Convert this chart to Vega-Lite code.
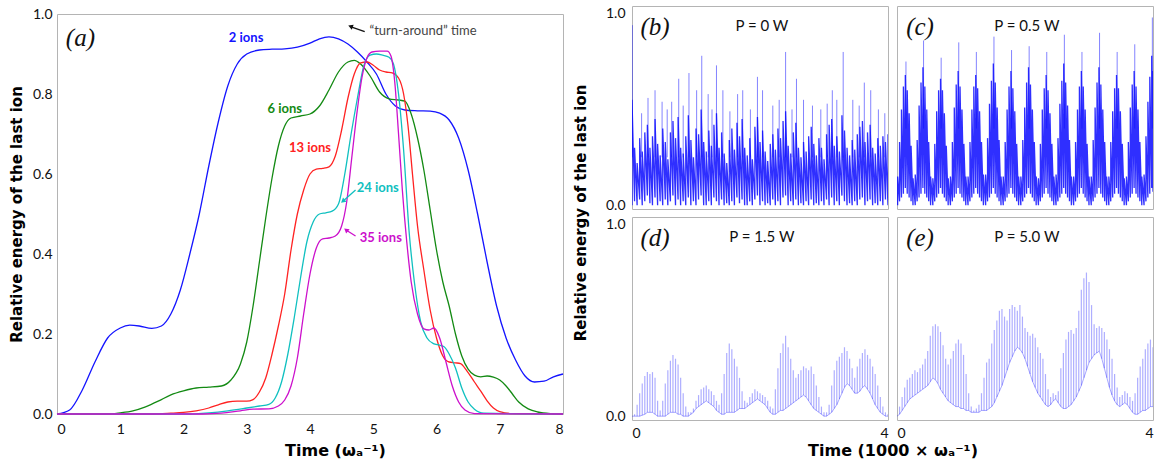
{
"$schema": "https://vega.github.io/schema/vega-lite/v6.json",
"background": "white",
"padding": {"left": 8, "top": 5, "right": 8, "bottom": 0},
"spacing": 6,
"config": {
  "view": {"stroke": "#b4b4b4", "strokeWidth": 1},
  "axis": {"labelFont": "Lato", "labelFontSize": 14, "labelColor": "#111", "titleFont": "DejaVu Sans", "titleFontWeight": "bold", "titleFontSize": 15, "titleColor": "#000", "grid": false, "domain": false, "ticks": false},
  "header": {"titleFont": "DejaVu Sans", "titleFontWeight": "bold", "titleFontSize": 15, "titleColor": "#000"}
},
"datasets": {
  "L": [
    {"s":"2","t":0,"v":0},{"s":"2","t":0.2,"v":0.01},{"s":"2","t":0.4,"v":0.06},{"s":"2","t":0.6,"v":0.13},{"s":"2","t":0.8,"v":0.19},{"s":"2","t":1.0,"v":0.215},{"s":"2","t":1.15,"v":0.222},{"s":"2","t":1.3,"v":0.22},{"s":"2","t":1.5,"v":0.214},{"s":"2","t":1.65,"v":0.22},{"s":"2","t":1.8,"v":0.25},{"s":"2","t":1.95,"v":0.31},{"s":"2","t":2.1,"v":0.4},{"s":"2","t":2.25,"v":0.5},{"s":"2","t":2.4,"v":0.62},{"s":"2","t":2.55,"v":0.73},{"s":"2","t":2.7,"v":0.82},{"s":"2","t":2.85,"v":0.875},{"s":"2","t":3.0,"v":0.9},{"s":"2","t":3.2,"v":0.91},{"s":"2","t":3.4,"v":0.912},{"s":"2","t":3.6,"v":0.913},{"s":"2","t":3.8,"v":0.917},{"s":"2","t":4.0,"v":0.927},{"s":"2","t":4.15,"v":0.938},{"s":"2","t":4.3,"v":0.943},{"s":"2","t":4.45,"v":0.938},{"s":"2","t":4.6,"v":0.925},{"s":"2","t":4.75,"v":0.905},{"s":"2","t":4.9,"v":0.88},{"s":"2","t":5.05,"v":0.85},{"s":"2","t":5.2,"v":0.8},{"s":"2","t":5.35,"v":0.77},{"s":"2","t":5.5,"v":0.76},{"s":"2","t":5.7,"v":0.758},{"s":"2","t":5.9,"v":0.757},{"s":"2","t":6.05,"v":0.752},{"s":"2","t":6.2,"v":0.735},{"s":"2","t":6.35,"v":0.69},{"s":"2","t":6.5,"v":0.61},{"s":"2","t":6.65,"v":0.5},{"s":"2","t":6.8,"v":0.38},{"s":"2","t":6.95,"v":0.27},{"s":"2","t":7.1,"v":0.19},{"s":"2","t":7.25,"v":0.135},{"s":"2","t":7.4,"v":0.095},{"s":"2","t":7.55,"v":0.08},{"s":"2","t":7.7,"v":0.082},{"s":"2","t":7.85,"v":0.093},{"s":"2","t":8.0,"v":0.1},
    {"s":"6","t":0,"v":0},{"s":"6","t":0.8,"v":0},{"s":"6","t":1.0,"v":0.003},{"s":"6","t":1.2,"v":0.008},{"s":"6","t":1.4,"v":0.018},{"s":"6","t":1.6,"v":0.032},{"s":"6","t":1.8,"v":0.048},{"s":"6","t":2.0,"v":0.058},{"s":"6","t":2.2,"v":0.065},{"s":"6","t":2.4,"v":0.067},{"s":"6","t":2.6,"v":0.07},{"s":"6","t":2.75,"v":0.085},{"s":"6","t":2.9,"v":0.125},{"s":"6","t":3.0,"v":0.18},{"s":"6","t":3.1,"v":0.27},{"s":"6","t":3.2,"v":0.38},{"s":"6","t":3.3,"v":0.49},{"s":"6","t":3.4,"v":0.59},{"s":"6","t":3.5,"v":0.67},{"s":"6","t":3.6,"v":0.72},{"s":"6","t":3.7,"v":0.74},{"s":"6","t":3.85,"v":0.745},{"s":"6","t":4.0,"v":0.75},{"s":"6","t":4.15,"v":0.77},{"s":"6","t":4.3,"v":0.81},{"s":"6","t":4.45,"v":0.855},{"s":"6","t":4.6,"v":0.88},{"s":"6","t":4.7,"v":0.884},{"s":"6","t":4.8,"v":0.875},{"s":"6","t":4.95,"v":0.845},{"s":"6","t":5.1,"v":0.805},{"s":"6","t":5.25,"v":0.788},{"s":"6","t":5.4,"v":0.785},{"s":"6","t":5.5,"v":0.782},{"s":"6","t":5.6,"v":0.75},{"s":"6","t":5.7,"v":0.69},{"s":"6","t":5.8,"v":0.61},{"s":"6","t":5.9,"v":0.51},{"s":"6","t":6.0,"v":0.41},{"s":"6","t":6.1,"v":0.33},{"s":"6","t":6.2,"v":0.27},{"s":"6","t":6.3,"v":0.2},{"s":"6","t":6.4,"v":0.145},{"s":"6","t":6.5,"v":0.112},{"s":"6","t":6.6,"v":0.097},{"s":"6","t":6.7,"v":0.093},{"s":"6","t":6.8,"v":0.095},{"s":"6","t":6.9,"v":0.092},{"s":"6","t":7.0,"v":0.085},{"s":"6","t":7.1,"v":0.07},{"s":"6","t":7.2,"v":0.05},{"s":"6","t":7.3,"v":0.03},{"s":"6","t":7.45,"v":0.013},{"s":"6","t":7.6,"v":0.005},{"s":"6","t":7.8,"v":0.001},{"s":"6","t":8.0,"v":0},
    {"s":"13","t":0,"v":0},{"s":"13","t":1.5,"v":0},{"s":"13","t":1.8,"v":0.002},{"s":"13","t":2.0,"v":0.004},{"s":"13","t":2.2,"v":0.008},{"s":"13","t":2.4,"v":0.015},{"s":"13","t":2.55,"v":0.023},{"s":"13","t":2.7,"v":0.03},{"s":"13","t":2.85,"v":0.032},{"s":"13","t":3.0,"v":0.032},{"s":"13","t":3.1,"v":0.036},{"s":"13","t":3.2,"v":0.055},{"s":"13","t":3.3,"v":0.09},{"s":"13","t":3.4,"v":0.15},{"s":"13","t":3.5,"v":0.22},{"s":"13","t":3.6,"v":0.3},{"s":"13","t":3.7,"v":0.41},{"s":"13","t":3.8,"v":0.5},{"s":"13","t":3.9,"v":0.56},{"s":"13","t":4.0,"v":0.6},{"s":"13","t":4.1,"v":0.612},{"s":"13","t":4.2,"v":0.614},{"s":"13","t":4.3,"v":0.618},{"s":"13","t":4.4,"v":0.645},{"s":"13","t":4.5,"v":0.71},{"s":"13","t":4.6,"v":0.79},{"s":"13","t":4.7,"v":0.85},{"s":"13","t":4.8,"v":0.878},{"s":"13","t":4.9,"v":0.88},{"s":"13","t":5.0,"v":0.872},{"s":"13","t":5.1,"v":0.86},{"s":"13","t":5.2,"v":0.855},{"s":"13","t":5.3,"v":0.853},{"s":"13","t":5.4,"v":0.84},{"s":"13","t":5.48,"v":0.8},{"s":"13","t":5.55,"v":0.72},{"s":"13","t":5.62,"v":0.6},{"s":"13","t":5.7,"v":0.47},{"s":"13","t":5.8,"v":0.36},{"s":"13","t":5.9,"v":0.26},{"s":"13","t":6.0,"v":0.19},{"s":"13","t":6.1,"v":0.145},{"s":"13","t":6.2,"v":0.13},{"s":"13","t":6.3,"v":0.128},{"s":"13","t":6.38,"v":0.126},{"s":"13","t":6.48,"v":0.108},{"s":"13","t":6.6,"v":0.08},{"s":"13","t":6.7,"v":0.057},{"s":"13","t":6.8,"v":0.033},{"s":"13","t":6.9,"v":0.015},{"s":"13","t":7.0,"v":0.006},{"s":"13","t":7.2,"v":0.001},{"s":"13","t":8.0,"v":0},
    {"s":"24","t":0,"v":0},{"s":"24","t":2.0,"v":0},{"s":"24","t":2.4,"v":0.003},{"s":"24","t":2.7,"v":0.008},{"s":"24","t":3.0,"v":0.015},{"s":"24","t":3.2,"v":0.02},{"s":"24","t":3.35,"v":0.024},{"s":"24","t":3.45,"v":0.04},{"s":"24","t":3.55,"v":0.08},{"s":"24","t":3.65,"v":0.15},{"s":"24","t":3.75,"v":0.24},{"s":"24","t":3.85,"v":0.34},{"s":"24","t":3.95,"v":0.43},{"s":"24","t":4.05,"v":0.48},{"s":"24","t":4.15,"v":0.5},{"s":"24","t":4.25,"v":0.503},{"s":"24","t":4.35,"v":0.507},{"s":"24","t":4.45,"v":0.525},{"s":"24","t":4.55,"v":0.6},{"s":"24","t":4.65,"v":0.7},{"s":"24","t":4.75,"v":0.79},{"s":"24","t":4.85,"v":0.87},{"s":"24","t":4.95,"v":0.897},{"s":"24","t":5.05,"v":0.9},{"s":"24","t":5.15,"v":0.897},{"s":"24","t":5.25,"v":0.892},{"s":"24","t":5.32,"v":0.875},{"s":"24","t":5.4,"v":0.8},{"s":"24","t":5.48,"v":0.66},{"s":"24","t":5.57,"v":0.45},{"s":"24","t":5.65,"v":0.33},{"s":"24","t":5.75,"v":0.23},{"s":"24","t":5.85,"v":0.19},{"s":"24","t":5.95,"v":0.176},{"s":"24","t":6.05,"v":0.172},{"s":"24","t":6.12,"v":0.168},{"s":"24","t":6.2,"v":0.15},{"s":"24","t":6.3,"v":0.115},{"s":"24","t":6.4,"v":0.065},{"s":"24","t":6.5,"v":0.03},{"s":"24","t":6.6,"v":0.012},{"s":"24","t":6.75,"v":0.002},{"s":"24","t":8.0,"v":0},
    {"s":"35","t":0,"v":0},{"s":"35","t":2.3,"v":0},{"s":"35","t":2.6,"v":0.002},{"s":"35","t":2.9,"v":0.008},{"s":"35","t":3.1,"v":0.012},{"s":"35","t":3.35,"v":0.013},{"s":"35","t":3.5,"v":0.02},{"s":"35","t":3.6,"v":0.035},{"s":"35","t":3.7,"v":0.07},{"s":"35","t":3.8,"v":0.14},{"s":"35","t":3.9,"v":0.25},{"s":"35","t":4.0,"v":0.35},{"s":"35","t":4.1,"v":0.415},{"s":"35","t":4.2,"v":0.438},{"s":"35","t":4.3,"v":0.44},{"s":"35","t":4.4,"v":0.445},{"s":"35","t":4.5,"v":0.47},{"s":"35","t":4.58,"v":0.53},{"s":"35","t":4.66,"v":0.64},{"s":"35","t":4.74,"v":0.75},{"s":"35","t":4.82,"v":0.84},{"s":"35","t":4.9,"v":0.89},{"s":"35","t":4.98,"v":0.905},{"s":"35","t":5.1,"v":0.907},{"s":"35","t":5.22,"v":0.907},{"s":"35","t":5.28,"v":0.895},{"s":"35","t":5.34,"v":0.83},{"s":"35","t":5.4,"v":0.7},{"s":"35","t":5.46,"v":0.56},{"s":"35","t":5.53,"v":0.43},{"s":"35","t":5.6,"v":0.33},{"s":"35","t":5.7,"v":0.25},{"s":"35","t":5.8,"v":0.213},{"s":"35","t":5.88,"v":0.21},{"s":"35","t":5.96,"v":0.215},{"s":"35","t":6.05,"v":0.19},{"s":"35","t":6.15,"v":0.13},{"s":"35","t":6.25,"v":0.07},{"s":"35","t":6.35,"v":0.03},{"s":"35","t":6.45,"v":0.01},{"s":"35","t":6.6,"v":0.001},{"s":"35","t":8.0,"v":0}
  ],
  "A": [
    {"s":"2","t":2.99,"v":0.94,"lab":"2 ions"},
    {"s":"6","t":3.6,"v":0.762,"lab":"6 ions"},
    {"s":"13","t":4.0,"v":0.665,"lab":"13 ions"},
    {"s":"24","t":5.07,"v":0.565,"lab":"24 ions"},
    {"s":"35","t":5.12,"v":0.44,"lab":"35 ions"}
  ],
  "AR": [
    {"s":"24","t":4.72,"v":0.56,"t2":4.52,"v2":0.532},
    {"s":"35","t":4.72,"v":0.445,"t2":4.57,"v2":0.46}
  ],
  "pm": [
    {"p":"b","r":1,"c":1},{"p":"c","r":1,"c":2},{"p":"d","r":2,"c":1},{"p":"e","r":2,"c":2}
  ],
  "R": [
    {"p":"b","k":"id","t":0.36,"v":0.93,"s":"(b)"},{"p":"c","k":"id","t":0.36,"v":0.93,"s":"(c)"},{"p":"d","k":"id","t":0.36,"v":0.93,"s":"(d)"},{"p":"e","k":"id","t":0.36,"v":0.93,"s":"(e)"},
    {"p":"b","k":"pw","t":2.03,"v":0.935,"s":"P = 0 W"},{"p":"c","k":"pw","t":2.03,"v":0.935,"s":"P = 0.5 W"},{"p":"d","k":"pw","t":2.03,"v":0.935,"s":"P = 1.5 W"},{"p":"e","k":"pw","t":2.03,"v":0.935,"s":"P = 5.0 W"},
    {"p":"b","t":0,"l":0,"h":0.55},{"p":"b","t":0.04,"l":0.02,"h":0.3},{"p":"b","t":0.08,"l":0,"h":0.22},{"p":"b","t":0.12,"l":0.03,"h":0.35},{"p":"b","t":0.16,"l":0,"h":0.28},{"p":"b","t":0.2,"l":0.02,"h":0.38},{"p":"b","t":0.24,"l":0.05,"h":0.42},{"p":"b","t":0.28,"l":0.01,"h":0.3},{"p":"b","t":0.32,"l":0,"h":0.36},{"p":"b","t":0.36,"l":0.04,"h":0.45},{"p":"b","t":0.4,"l":0,"h":0.32},{"p":"b","t":0.44,"l":0.02,"h":0.26},{"p":"b","t":0.48,"l":0,"h":0.4},{"p":"b","t":0.52,"l":0.03,"h":0.33},{"p":"b","t":0.56,"l":0,"h":0.24},{"p":"b","t":0.6,"l":0.02,"h":0.38},{"p":"b","t":0.64,"l":0.05,"h":0.44},{"p":"b","t":0.68,"l":0,"h":0.35},{"p":"b","t":0.72,"l":0.03,"h":0.46},{"p":"b","t":0.76,"l":0,"h":0.3},{"p":"b","t":0.8,"l":0.02,"h":0.27},{"p":"b","t":0.84,"l":0,"h":0.36},{"p":"b","t":0.88,"l":0.04,"h":0.47},{"p":"b","t":0.92,"l":0,"h":0.34},{"p":"b","t":0.96,"l":0.02,"h":0.25},{"p":"b","t":1.0,"l":0,"h":0.4},{"p":"b","t":1.04,"l":0.03,"h":0.37},{"p":"b","t":1.08,"l":0.05,"h":0.5},{"p":"b","t":1.12,"l":0,"h":0.33},{"p":"b","t":1.16,"l":0,"h":0.28},{"p":"b","t":1.2,"l":0.02,"h":0.39},{"p":"b","t":1.24,"l":0,"h":0.31},{"p":"b","t":1.28,"l":0.04,"h":0.42},{"p":"b","t":1.32,"l":0.02,"h":0.48},{"p":"b","t":1.36,"l":0,"h":0.3},{"p":"b","t":1.4,"l":0.03,"h":0.38},{"p":"b","t":1.44,"l":0,"h":0.27},{"p":"b","t":1.48,"l":0.01,"h":0.22},{"p":"b","t":1.52,"l":0,"h":0.34},{"p":"b","t":1.56,"l":0.02,"h":0.4},{"p":"b","t":1.6,"l":0,"h":0.29},{"p":"b","t":1.64,"l":0.04,"h":0.43},{"p":"b","t":1.68,"l":0.01,"h":0.36},{"p":"b","t":1.72,"l":0.03,"h":0.45},{"p":"b","t":1.76,"l":0,"h":0.3},{"p":"b","t":1.8,"l":0,"h":0.26},{"p":"b","t":1.84,"l":0.02,"h":0.35},{"p":"b","t":1.88,"l":0,"h":0.24},{"p":"b","t":1.92,"l":0.03,"h":0.41},{"p":"b","t":1.96,"l":0.05,"h":0.46},{"p":"b","t":2.0,"l":0,"h":0.33},{"p":"b","t":2.04,"l":0.02,"h":0.39},{"p":"b","t":2.08,"l":0,"h":0.28},{"p":"b","t":2.12,"l":0.01,"h":0.23},{"p":"b","t":2.16,"l":0,"h":0.32},{"p":"b","t":2.2,"l":0.03,"h":0.37},{"p":"b","t":2.24,"l":0,"h":0.29},{"p":"b","t":2.28,"l":0.02,"h":0.4},{"p":"b","t":2.32,"l":0,"h":0.35},{"p":"b","t":2.36,"l":0.04,"h":0.44},{"p":"b","t":2.4,"l":0.05,"h":0.49},{"p":"b","t":2.44,"l":0,"h":0.31},{"p":"b","t":2.48,"l":0.02,"h":0.27},{"p":"b","t":2.52,"l":0,"h":0.38},{"p":"b","t":2.56,"l":0.03,"h":0.43},{"p":"b","t":2.6,"l":0,"h":0.3},{"p":"b","t":2.64,"l":0.01,"h":0.25},{"p":"b","t":2.68,"l":0,"h":0.33},{"p":"b","t":2.72,"l":0.02,"h":0.28},{"p":"b","t":2.76,"l":0,"h":0.36},{"p":"b","t":2.8,"l":0.03,"h":0.41},{"p":"b","t":2.84,"l":0,"h":0.32},{"p":"b","t":2.88,"l":0.01,"h":0.26},{"p":"b","t":2.92,"l":0,"h":0.35},{"p":"b","t":2.96,"l":0.02,"h":0.3},{"p":"b","t":3.0,"l":0,"h":0.24},{"p":"b","t":3.04,"l":0.03,"h":0.37},{"p":"b","t":3.08,"l":0,"h":0.42},{"p":"b","t":3.12,"l":0.04,"h":0.45},{"p":"b","t":3.16,"l":0,"h":0.31},{"p":"b","t":3.2,"l":0.02,"h":0.36},{"p":"b","t":3.24,"l":0,"h":0.28},{"p":"b","t":3.28,"l":0.05,"h":0.47},{"p":"b","t":3.32,"l":0.02,"h":0.39},{"p":"b","t":3.36,"l":0,"h":0.3},{"p":"b","t":3.4,"l":0.01,"h":0.26},{"p":"b","t":3.44,"l":0,"h":0.34},{"p":"b","t":3.48,"l":0.02,"h":0.29},{"p":"b","t":3.52,"l":0,"h":0.37},{"p":"b","t":3.56,"l":0.03,"h":0.41},{"p":"b","t":3.6,"l":0.04,"h":0.44},{"p":"b","t":3.64,"l":0,"h":0.33},{"p":"b","t":3.68,"l":0.02,"h":0.38},{"p":"b","t":3.72,"l":0.03,"h":0.42},{"p":"b","t":3.76,"l":0,"h":0.3},{"p":"b","t":3.8,"l":0.01,"h":0.27},{"p":"b","t":3.84,"l":0,"h":0.35},{"p":"b","t":3.88,"l":0.02,"h":0.31},{"p":"b","t":3.92,"l":0,"h":0.36},{"p":"b","t":3.96,"l":0.03,"h":0.33},{"p":"b","t":4.0,"l":0,"h":0.37},
    {"p":"b","k":"s","t":0.005,"l":0.25,"h":0.94},{"p":"b","k":"s","t":0.15,"l":0.25,"h":0.48},{"p":"b","k":"s","t":0.25,"l":0.25,"h":0.56},{"p":"b","k":"s","t":0.36,"l":0.25,"h":0.6},{"p":"b","k":"s","t":0.47,"l":0.25,"h":0.54},{"p":"b","k":"s","t":0.55,"l":0.25,"h":0.5},{"p":"b","k":"s","t":0.62,"l":0.25,"h":0.54},{"p":"b","k":"s","t":0.73,"l":0.25,"h":0.66},{"p":"b","k":"s","t":0.8,"l":0.25,"h":0.52},{"p":"b","k":"s","t":0.89,"l":0.25,"h":0.69},{"p":"b","k":"s","t":1.01,"l":0.25,"h":0.6},{"p":"b","k":"s","t":1.09,"l":0.25,"h":0.78},{"p":"b","k":"s","t":1.19,"l":0.25,"h":0.58},{"p":"b","k":"s","t":1.25,"l":0.25,"h":0.5},{"p":"b","k":"s","t":1.32,"l":0.25,"h":0.73},{"p":"b","k":"s","t":1.42,"l":0.25,"h":0.6},{"p":"b","k":"s","t":1.53,"l":0.25,"h":0.49},{"p":"b","k":"s","t":1.65,"l":0.25,"h":0.58},{"p":"b","k":"s","t":1.73,"l":0.25,"h":0.6},{"p":"b","k":"s","t":1.85,"l":0.25,"h":0.5},{"p":"b","k":"s","t":1.96,"l":0.25,"h":0.67},{"p":"b","k":"s","t":2.04,"l":0.25,"h":0.6},{"p":"b","k":"s","t":2.2,"l":0.25,"h":0.52},{"p":"b","k":"s","t":2.3,"l":0.25,"h":0.55},{"p":"b","k":"s","t":2.4,"l":0.25,"h":0.8},{"p":"b","k":"s","t":2.5,"l":0.25,"h":0.5},{"p":"b","k":"s","t":2.57,"l":0.25,"h":0.66},{"p":"b","k":"s","t":2.68,"l":0.25,"h":0.55},{"p":"b","k":"s","t":2.82,"l":0.25,"h":0.52},{"p":"b","k":"s","t":2.95,"l":0.25,"h":0.5},{"p":"b","k":"s","t":3.05,"l":0.25,"h":0.53},{"p":"b","k":"s","t":3.13,"l":0.25,"h":0.6},{"p":"b","k":"s","t":3.2,"l":0.25,"h":0.55},{"p":"b","k":"s","t":3.3,"l":0.25,"h":0.8},{"p":"b","k":"s","t":3.45,"l":0.25,"h":0.55},{"p":"b","k":"s","t":3.55,"l":0.25,"h":0.52},{"p":"b","k":"s","t":3.63,"l":0.25,"h":0.64},{"p":"b","k":"s","t":3.73,"l":0.25,"h":0.6},{"p":"b","k":"s","t":3.85,"l":0.25,"h":0.5},{"p":"b","k":"s","t":3.95,"l":0.25,"h":0.48},
    {"p":"c","t":0.01,"l":0,"h":0.15},{"p":"c","t":0.04,"l":0.02,"h":0.33},{"p":"c","t":0.07,"l":0.04,"h":0.5},{"p":"c","t":0.1,"l":0.06,"h":0.62},{"p":"c","t":0.13,"l":0.09,"h":0.68},{"p":"c","t":0.16,"l":0.06,"h":0.6},{"p":"c","t":0.19,"l":0.04,"h":0.48},{"p":"c","t":0.22,"l":0.02,"h":0.31},{"p":"c","t":0.25,"l":0,"h":0.14},
    {"p":"c","t":0.285,"l":0,"h":0.16},{"p":"c","t":0.315,"l":0.02,"h":0.34},{"p":"c","t":0.345,"l":0.04,"h":0.52},{"p":"c","t":0.375,"l":0.06,"h":0.64},{"p":"c","t":0.405,"l":0.09,"h":0.72},{"p":"c","t":0.435,"l":0.06,"h":0.62},{"p":"c","t":0.465,"l":0.04,"h":0.5},{"p":"c","t":0.495,"l":0.02,"h":0.33},{"p":"c","t":0.525,"l":0,"h":0.15},
    {"p":"c","t":0.56,"l":0,"h":0.14},{"p":"c","t":0.59,"l":0.02,"h":0.32},{"p":"c","t":0.62,"l":0.04,"h":0.49},{"p":"c","t":0.65,"l":0.06,"h":0.6},{"p":"c","t":0.68,"l":0.09,"h":0.66},{"p":"c","t":0.71,"l":0.06,"h":0.6},{"p":"c","t":0.74,"l":0.04,"h":0.48},{"p":"c","t":0.77,"l":0.02,"h":0.31},{"p":"c","t":0.8,"l":0,"h":0.14},
    {"p":"c","t":0.835,"l":0,"h":0.15},{"p":"c","t":0.865,"l":0.02,"h":0.33},{"p":"c","t":0.895,"l":0.04,"h":0.51},{"p":"c","t":0.925,"l":0.06,"h":0.63},{"p":"c","t":0.955,"l":0.09,"h":0.7},{"p":"c","t":0.985,"l":0.06,"h":0.62},{"p":"c","t":1.015,"l":0.04,"h":0.5},{"p":"c","t":1.045,"l":0.02,"h":0.32},{"p":"c","t":1.075,"l":0,"h":0.15},
    {"p":"c","t":1.11,"l":0,"h":0.15},{"p":"c","t":1.14,"l":0.02,"h":0.33},{"p":"c","t":1.17,"l":0.04,"h":0.5},{"p":"c","t":1.2,"l":0.06,"h":0.62},{"p":"c","t":1.23,"l":0.09,"h":0.68},{"p":"c","t":1.26,"l":0.06,"h":0.61},{"p":"c","t":1.29,"l":0.04,"h":0.49},{"p":"c","t":1.32,"l":0.02,"h":0.33},{"p":"c","t":1.35,"l":0,"h":0.16},
    {"p":"c","t":1.385,"l":0,"h":0.16},{"p":"c","t":1.415,"l":0.02,"h":0.35},{"p":"c","t":1.445,"l":0.04,"h":0.53},{"p":"c","t":1.475,"l":0.06,"h":0.65},{"p":"c","t":1.505,"l":0.09,"h":0.74},{"p":"c","t":1.535,"l":0.06,"h":0.64},{"p":"c","t":1.565,"l":0.04,"h":0.51},{"p":"c","t":1.595,"l":0.02,"h":0.34},{"p":"c","t":1.625,"l":0,"h":0.15},
    {"p":"c","t":1.66,"l":0,"h":0.15},{"p":"c","t":1.69,"l":0.02,"h":0.33},{"p":"c","t":1.72,"l":0.04,"h":0.5},{"p":"c","t":1.75,"l":0.06,"h":0.62},{"p":"c","t":1.78,"l":0.09,"h":0.7},{"p":"c","t":1.81,"l":0.06,"h":0.61},{"p":"c","t":1.84,"l":0.04,"h":0.49},{"p":"c","t":1.87,"l":0.02,"h":0.32},{"p":"c","t":1.9,"l":0,"h":0.15},
    {"p":"c","t":1.935,"l":0,"h":0.15},{"p":"c","t":1.965,"l":0.02,"h":0.34},{"p":"c","t":1.995,"l":0.04,"h":0.51},{"p":"c","t":2.025,"l":0.06,"h":0.64},{"p":"c","t":2.055,"l":0.09,"h":0.72},{"p":"c","t":2.085,"l":0.06,"h":0.63},{"p":"c","t":2.115,"l":0.04,"h":0.5},{"p":"c","t":2.145,"l":0.02,"h":0.33},{"p":"c","t":2.175,"l":0,"h":0.15},
    {"p":"c","t":2.21,"l":0,"h":0.14},{"p":"c","t":2.24,"l":0.02,"h":0.32},{"p":"c","t":2.27,"l":0.04,"h":0.5},{"p":"c","t":2.3,"l":0.06,"h":0.61},{"p":"c","t":2.33,"l":0.09,"h":0.68},{"p":"c","t":2.36,"l":0.06,"h":0.6},{"p":"c","t":2.39,"l":0.04,"h":0.48},{"p":"c","t":2.42,"l":0.02,"h":0.32},{"p":"c","t":2.45,"l":0,"h":0.15},
    {"p":"c","t":2.485,"l":0,"h":0.16},{"p":"c","t":2.515,"l":0.02,"h":0.35},{"p":"c","t":2.545,"l":0.04,"h":0.53},{"p":"c","t":2.575,"l":0.06,"h":0.65},{"p":"c","t":2.605,"l":0.09,"h":0.74},{"p":"c","t":2.635,"l":0.06,"h":0.64},{"p":"c","t":2.665,"l":0.04,"h":0.52},{"p":"c","t":2.695,"l":0.02,"h":0.34},{"p":"c","t":2.725,"l":0,"h":0.15},
    {"p":"c","t":2.76,"l":0,"h":0.15},{"p":"c","t":2.79,"l":0.02,"h":0.33},{"p":"c","t":2.82,"l":0.04,"h":0.5},{"p":"c","t":2.85,"l":0.06,"h":0.62},{"p":"c","t":2.88,"l":0.09,"h":0.7},{"p":"c","t":2.91,"l":0.06,"h":0.62},{"p":"c","t":2.94,"l":0.04,"h":0.5},{"p":"c","t":2.97,"l":0.02,"h":0.32},{"p":"c","t":3.0,"l":0,"h":0.15},
    {"p":"c","t":3.035,"l":0,"h":0.15},{"p":"c","t":3.065,"l":0.02,"h":0.34},{"p":"c","t":3.095,"l":0.04,"h":0.51},{"p":"c","t":3.125,"l":0.06,"h":0.64},{"p":"c","t":3.155,"l":0.09,"h":0.72},{"p":"c","t":3.185,"l":0.06,"h":0.63},{"p":"c","t":3.215,"l":0.04,"h":0.5},{"p":"c","t":3.245,"l":0.02,"h":0.33},{"p":"c","t":3.275,"l":0,"h":0.15},
    {"p":"c","t":3.31,"l":0,"h":0.15},{"p":"c","t":3.34,"l":0.02,"h":0.33},{"p":"c","t":3.37,"l":0.04,"h":0.49},{"p":"c","t":3.4,"l":0.06,"h":0.61},{"p":"c","t":3.43,"l":0.09,"h":0.68},{"p":"c","t":3.46,"l":0.06,"h":0.61},{"p":"c","t":3.49,"l":0.04,"h":0.49},{"p":"c","t":3.52,"l":0.02,"h":0.32},{"p":"c","t":3.55,"l":0,"h":0.14},
    {"p":"c","t":3.585,"l":0,"h":0.15},{"p":"c","t":3.615,"l":0.02,"h":0.33},{"p":"c","t":3.645,"l":0.04,"h":0.51},{"p":"c","t":3.675,"l":0.06,"h":0.63},{"p":"c","t":3.705,"l":0.09,"h":0.7},{"p":"c","t":3.735,"l":0.06,"h":0.62},{"p":"c","t":3.765,"l":0.04,"h":0.5},{"p":"c","t":3.795,"l":0.02,"h":0.33},{"p":"c","t":3.825,"l":0,"h":0.15},
    {"p":"c","t":3.86,"l":0,"h":0.16},{"p":"c","t":3.89,"l":0.02,"h":0.36},{"p":"c","t":3.92,"l":0.04,"h":0.54},{"p":"c","t":3.95,"l":0.06,"h":0.67},{"p":"c","t":3.98,"l":0.09,"h":0.78},{"p":"c","t":4.0,"l":0.07,"h":0.7},
    {"p":"c","k":"s","t":0.14,"l":0.4,"h":0.75},{"p":"c","k":"s","t":0.415,"l":0.4,"h":0.86},{"p":"c","k":"s","t":0.69,"l":0.4,"h":0.77},{"p":"c","k":"s","t":0.965,"l":0.4,"h":0.85},{"p":"c","k":"s","t":1.24,"l":0.4,"h":0.8},{"p":"c","k":"s","t":1.515,"l":0.4,"h":0.88},{"p":"c","k":"s","t":1.79,"l":0.4,"h":0.81},{"p":"c","k":"s","t":2.065,"l":0.4,"h":0.83},{"p":"c","k":"s","t":2.34,"l":0.4,"h":0.8},{"p":"c","k":"s","t":2.615,"l":0.4,"h":0.89},{"p":"c","k":"s","t":2.89,"l":0.4,"h":0.8},{"p":"c","k":"s","t":3.165,"l":0.4,"h":0.9},{"p":"c","k":"s","t":3.44,"l":0.4,"h":0.8},{"p":"c","k":"s","t":3.715,"l":0.4,"h":0.84},{"p":"c","k":"s","t":3.99,"l":0.4,"h":0.98},
    {"p":"d","t":0,"l":0,"h":0},{"p":"d","t":0.04,"l":0,"h":0.01},{"p":"d","t":0.08,"l":0,"h":0.06},{"p":"d","t":0.12,"l":0,"h":0.12},{"p":"d","t":0.16,"l":0.005,"h":0.17},{"p":"d","t":0.2,"l":0.01,"h":0.21},{"p":"d","t":0.24,"l":0.02,"h":0.23},{"p":"d","t":0.28,"l":0.02,"h":0.22},{"p":"d","t":0.32,"l":0.02,"h":0.23},{"p":"d","t":0.36,"l":0.01,"h":0.2},{"p":"d","t":0.4,"l":0,"h":0.08},{"p":"d","t":0.44,"l":0,"h":0.03},{"p":"d","t":0.48,"l":0,"h":0.08},{"p":"d","t":0.52,"l":0,"h":0.17},{"p":"d","t":0.56,"l":0.01,"h":0.24},{"p":"d","t":0.6,"l":0.02,"h":0.29},{"p":"d","t":0.64,"l":0.02,"h":0.32},{"p":"d","t":0.68,"l":0.02,"h":0.3},{"p":"d","t":0.72,"l":0.01,"h":0.27},{"p":"d","t":0.76,"l":0.01,"h":0.2},{"p":"d","t":0.8,"l":0,"h":0.12},{"p":"d","t":0.84,"l":0,"h":0.05},{"p":"d","t":0.88,"l":0,"h":0.02},{"p":"d","t":0.92,"l":0.01,"h":0.02},{"p":"d","t":0.96,"l":0.02,"h":0.04},{"p":"d","t":1.0,"l":0.04,"h":0.08},{"p":"d","t":1.04,"l":0.05,"h":0.11},{"p":"d","t":1.08,"l":0.06,"h":0.14},{"p":"d","t":1.12,"l":0.07,"h":0.15},{"p":"d","t":1.16,"l":0.08,"h":0.16},{"p":"d","t":1.2,"l":0.07,"h":0.14},{"p":"d","t":1.24,"l":0.06,"h":0.13},{"p":"d","t":1.28,"l":0.05,"h":0.11},{"p":"d","t":1.32,"l":0.03,"h":0.08},{"p":"d","t":1.36,"l":0.02,"h":0.06},{"p":"d","t":1.4,"l":0.01,"h":0.12},{"p":"d","t":1.44,"l":0.01,"h":0.22},{"p":"d","t":1.48,"l":0.02,"h":0.33},{"p":"d","t":1.52,"l":0.02,"h":0.38},{"p":"d","t":1.56,"l":0.02,"h":0.35},{"p":"d","t":1.6,"l":0.02,"h":0.3},{"p":"d","t":1.64,"l":0.03,"h":0.26},{"p":"d","t":1.68,"l":0.04,"h":0.2},{"p":"d","t":1.72,"l":0.04,"h":0.13},{"p":"d","t":1.76,"l":0.04,"h":0.08},{"p":"d","t":1.8,"l":0.05,"h":0.07},{"p":"d","t":1.84,"l":0.06,"h":0.1},{"p":"d","t":1.88,"l":0.07,"h":0.12},{"p":"d","t":1.92,"l":0.08,"h":0.14},{"p":"d","t":1.96,"l":0.09,"h":0.13},{"p":"d","t":2.0,"l":0.08,"h":0.12},{"p":"d","t":2.04,"l":0.07,"h":0.11},{"p":"d","t":2.08,"l":0.06,"h":0.1},{"p":"d","t":2.12,"l":0.04,"h":0.08},{"p":"d","t":2.16,"l":0.02,"h":0.05},{"p":"d","t":2.2,"l":0.01,"h":0.04},{"p":"d","t":2.24,"l":0.01,"h":0.14},{"p":"d","t":2.28,"l":0.02,"h":0.25},{"p":"d","t":2.32,"l":0.03,"h":0.33},{"p":"d","t":2.36,"l":0.03,"h":0.38},{"p":"d","t":2.4,"l":0.04,"h":0.42},{"p":"d","t":2.44,"l":0.05,"h":0.36},{"p":"d","t":2.48,"l":0.06,"h":0.3},{"p":"d","t":2.52,"l":0.07,"h":0.24},{"p":"d","t":2.56,"l":0.08,"h":0.2},{"p":"d","t":2.6,"l":0.09,"h":0.22},{"p":"d","t":2.64,"l":0.1,"h":0.24},{"p":"d","t":2.68,"l":0.11,"h":0.26},{"p":"d","t":2.72,"l":0.1,"h":0.25},{"p":"d","t":2.76,"l":0.08,"h":0.24},{"p":"d","t":2.8,"l":0.06,"h":0.26},{"p":"d","t":2.84,"l":0.04,"h":0.22},{"p":"d","t":2.88,"l":0.03,"h":0.16},{"p":"d","t":2.92,"l":0.02,"h":0.1},{"p":"d","t":2.96,"l":0.01,"h":0.05},{"p":"d","t":3.0,"l":0,"h":0.02},{"p":"d","t":3.04,"l":0,"h":0.02},{"p":"d","t":3.08,"l":0.01,"h":0.06},{"p":"d","t":3.12,"l":0.02,"h":0.16},{"p":"d","t":3.16,"l":0.04,"h":0.24},{"p":"d","t":3.2,"l":0.06,"h":0.29},{"p":"d","t":3.24,"l":0.09,"h":0.31},{"p":"d","t":3.28,"l":0.12,"h":0.33},{"p":"d","t":3.32,"l":0.15,"h":0.36},{"p":"d","t":3.36,"l":0.17,"h":0.34},{"p":"d","t":3.4,"l":0.16,"h":0.3},{"p":"d","t":3.44,"l":0.14,"h":0.25},{"p":"d","t":3.48,"l":0.12,"h":0.2},{"p":"d","t":3.52,"l":0.12,"h":0.26},{"p":"d","t":3.56,"l":0.13,"h":0.3},{"p":"d","t":3.6,"l":0.15,"h":0.33},{"p":"d","t":3.64,"l":0.16,"h":0.35},{"p":"d","t":3.68,"l":0.14,"h":0.32},{"p":"d","t":3.72,"l":0.12,"h":0.3},{"p":"d","t":3.76,"l":0.09,"h":0.26},{"p":"d","t":3.8,"l":0.06,"h":0.22},{"p":"d","t":3.84,"l":0.04,"h":0.16},{"p":"d","t":3.88,"l":0.02,"h":0.1},{"p":"d","t":3.92,"l":0.01,"h":0.05},{"p":"d","t":3.96,"l":0,"h":0.02},{"p":"d","t":4.0,"l":0,"h":0.01},
    {"p":"e","t":0,"l":0,"h":0},{"p":"e","t":0.04,"l":0.01,"h":0.05},{"p":"e","t":0.08,"l":0.03,"h":0.1},{"p":"e","t":0.12,"l":0.05,"h":0.15},{"p":"e","t":0.16,"l":0.07,"h":0.19},{"p":"e","t":0.2,"l":0.09,"h":0.2},{"p":"e","t":0.24,"l":0.1,"h":0.22},{"p":"e","t":0.28,"l":0.11,"h":0.24},{"p":"e","t":0.32,"l":0.12,"h":0.23},{"p":"e","t":0.36,"l":0.13,"h":0.25},{"p":"e","t":0.4,"l":0.14,"h":0.27},{"p":"e","t":0.44,"l":0.15,"h":0.3},{"p":"e","t":0.48,"l":0.16,"h":0.34},{"p":"e","t":0.52,"l":0.18,"h":0.42},{"p":"e","t":0.56,"l":0.2,"h":0.47},{"p":"e","t":0.6,"l":0.19,"h":0.48},{"p":"e","t":0.64,"l":0.17,"h":0.47},{"p":"e","t":0.68,"l":0.14,"h":0.44},{"p":"e","t":0.72,"l":0.12,"h":0.37},{"p":"e","t":0.76,"l":0.1,"h":0.3},{"p":"e","t":0.8,"l":0.08,"h":0.27},{"p":"e","t":0.84,"l":0.07,"h":0.3},{"p":"e","t":0.88,"l":0.06,"h":0.34},{"p":"e","t":0.92,"l":0.05,"h":0.38},{"p":"e","t":0.96,"l":0.05,"h":0.4},{"p":"e","t":1.0,"l":0.04,"h":0.38},{"p":"e","t":1.04,"l":0.04,"h":0.32},{"p":"e","t":1.08,"l":0.03,"h":0.22},{"p":"e","t":1.12,"l":0.03,"h":0.12},{"p":"e","t":1.16,"l":0.02,"h":0.05},{"p":"e","t":1.2,"l":0.02,"h":0.03},{"p":"e","t":1.24,"l":0.02,"h":0.04},{"p":"e","t":1.28,"l":0.02,"h":0.06},{"p":"e","t":1.32,"l":0.03,"h":0.12},{"p":"e","t":1.36,"l":0.03,"h":0.2},{"p":"e","t":1.4,"l":0.03,"h":0.28},{"p":"e","t":1.44,"l":0.04,"h":0.3},{"p":"e","t":1.48,"l":0.05,"h":0.38},{"p":"e","t":1.52,"l":0.07,"h":0.45},{"p":"e","t":1.56,"l":0.1,"h":0.5},{"p":"e","t":1.6,"l":0.13,"h":0.55},{"p":"e","t":1.64,"l":0.16,"h":0.56},{"p":"e","t":1.68,"l":0.2,"h":0.52},{"p":"e","t":1.72,"l":0.24,"h":0.5},{"p":"e","t":1.76,"l":0.28,"h":0.56},{"p":"e","t":1.8,"l":0.31,"h":0.58},{"p":"e","t":1.84,"l":0.34,"h":0.57},{"p":"e","t":1.88,"l":0.36,"h":0.55},{"p":"e","t":1.92,"l":0.35,"h":0.58},{"p":"e","t":1.96,"l":0.33,"h":0.52},{"p":"e","t":2.0,"l":0.3,"h":0.46},{"p":"e","t":2.04,"l":0.26,"h":0.44},{"p":"e","t":2.08,"l":0.22,"h":0.42},{"p":"e","t":2.12,"l":0.18,"h":0.43},{"p":"e","t":2.16,"l":0.15,"h":0.41},{"p":"e","t":2.2,"l":0.12,"h":0.36},{"p":"e","t":2.24,"l":0.1,"h":0.33},{"p":"e","t":2.28,"l":0.08,"h":0.3},{"p":"e","t":2.32,"l":0.06,"h":0.22},{"p":"e","t":2.36,"l":0.05,"h":0.14},{"p":"e","t":2.4,"l":0.06,"h":0.1},{"p":"e","t":2.44,"l":0.08,"h":0.12},{"p":"e","t":2.48,"l":0.09,"h":0.11},{"p":"e","t":2.52,"l":0.07,"h":0.13},{"p":"e","t":2.56,"l":0.05,"h":0.25},{"p":"e","t":2.6,"l":0.04,"h":0.33},{"p":"e","t":2.64,"l":0.04,"h":0.4},{"p":"e","t":2.68,"l":0.05,"h":0.44},{"p":"e","t":2.72,"l":0.06,"h":0.45},{"p":"e","t":2.76,"l":0.08,"h":0.43},{"p":"e","t":2.8,"l":0.1,"h":0.46},{"p":"e","t":2.84,"l":0.13,"h":0.55},{"p":"e","t":2.88,"l":0.16,"h":0.66},{"p":"e","t":2.92,"l":0.2,"h":0.72},{"p":"e","t":2.96,"l":0.24,"h":0.75},{"p":"e","t":3.0,"l":0.28,"h":0.7},{"p":"e","t":3.04,"l":0.3,"h":0.58},{"p":"e","t":3.08,"l":0.32,"h":0.48},{"p":"e","t":3.12,"l":0.33,"h":0.46},{"p":"e","t":3.16,"l":0.34,"h":0.47},{"p":"e","t":3.2,"l":0.3,"h":0.46},{"p":"e","t":3.24,"l":0.25,"h":0.44},{"p":"e","t":3.28,"l":0.2,"h":0.4},{"p":"e","t":3.32,"l":0.15,"h":0.35},{"p":"e","t":3.36,"l":0.11,"h":0.3},{"p":"e","t":3.4,"l":0.08,"h":0.22},{"p":"e","t":3.44,"l":0.06,"h":0.15},{"p":"e","t":3.48,"l":0.05,"h":0.1},{"p":"e","t":3.52,"l":0.06,"h":0.11},{"p":"e","t":3.56,"l":0.07,"h":0.13},{"p":"e","t":3.6,"l":0.06,"h":0.12},{"p":"e","t":3.64,"l":0.04,"h":0.1},{"p":"e","t":3.68,"l":0.02,"h":0.08},{"p":"e","t":3.72,"l":0.01,"h":0.12},{"p":"e","t":3.76,"l":0.01,"h":0.2},{"p":"e","t":3.8,"l":0.02,"h":0.26},{"p":"e","t":3.84,"l":0.03,"h":0.3},{"p":"e","t":3.88,"l":0.03,"h":0.35},{"p":"e","t":3.92,"l":0.04,"h":0.38},{"p":"e","t":3.96,"l":0.05,"h":0.4},{"p":"e","t":4.0,"l":0.05,"h":0.36}
  ]
},
"hconcat": [
  {
    "spacing": -2,
    "vconcat": [
      {"width": 506, "height": 1, "data": {"values": []}, "mark": {"type": "point"}, "view": {"stroke": "transparent"}},
      {
        "width": 506,
        "height": 400,
        "encoding": {
          "x": {"field": "t", "type": "quantitative", "title": "Time  (ωₐ⁻¹)", "scale": {"domain": [0, 8], "nice": false}, "axis": {"values": [0,1,2,3,4,5,6,7,8], "labelPadding": 8, "titlePadding": 6, "titleFontSize": 16, "titleX": 278}},
          "y": {"field": "v", "type": "quantitative", "title": "Relative energy of the last ion", "scale": {"domain": [0, 1], "nice": false}, "axis": {"values": [0,0.2,0.4,0.6,0.8,1], "format": ".1f", "labelPadding": 5, "titlePadding": 8}}
        },
        "layer": [
          {"data": {"values": [{"t": 4.25, "t2": 4.45}]}, "mark": {"type": "rect", "color": "#efeff2"}, "encoding": {"x2": {"field": "t2"}, "y": {"datum": 0}, "y2": {"datum": 1}}},
          {"data": {"values": [{"t": 4.29, "t2": 4.41}]}, "mark": {"type": "rect", "color": "#dadadf"}, "encoding": {"x2": {"field": "t2"}, "y": {"datum": 0}, "y2": {"datum": 1}}},
          {"data": {"values": [{"t": 4.32, "t2": 4.38}]}, "mark": {"type": "rect", "color": "#c6c6cc"}, "encoding": {"x2": {"field": "t2"}, "y": {"datum": 0}, "y2": {"datum": 1}}},
          {"data": {"name": "L"}, "mark": {"type": "line", "interpolate": "monotone", "strokeWidth": 1.3},
           "encoding": {"color": {"field": "s", "type": "nominal", "scale": {"domain": ["2","6","13","24","35"], "range": ["#1414ff","#138a13","#ff2222","#10c0c0","#cc10cc"]}, "legend": null}, "detail": {"field": "s"}}},
          {"data": {"name": "A"}, "mark": {"type": "text", "font": "Lato", "fontWeight": "bold", "fontSize": 13},
           "encoding": {"text": {"field": "lab"}, "color": {"field": "s", "type": "nominal", "legend": null}}},
          {"data": {"name": "AR"}, "mark": {"type": "rule", "strokeWidth": 1.3},
           "encoding": {"x2": {"field": "t2"}, "y2": {"field": "v2"}, "color": {"field": "s", "type": "nominal", "legend": null}}},
          {"data": {"values": [{"t": 4.52, "v": 0.532}]}, "mark": {"type": "point", "shape": "triangle-up", "filled": true, "size": 30, "angle": 231, "color": "#10c0c0", "opacity": 1}},
          {"data": {"values": [{"t": 4.57, "v": 0.46}]}, "mark": {"type": "point", "shape": "triangle-up", "filled": true, "size": 30, "angle": 309, "color": "#cc10cc", "opacity": 1}},
          {"data": {"values": [{"t": 4.865, "v": 0.956, "t2": 4.65, "v2": 0.968}]}, "mark": {"type": "rule", "strokeWidth": 1.3, "color": "#111"}, "encoding": {"x2": {"field": "t2"}, "y2": {"field": "v2"}}},
          {"data": {"values": [{"t": 4.64, "v": 0.969}]}, "mark": {"type": "point", "shape": "triangle-up", "filled": true, "size": 30, "angle": 290, "color": "#111", "opacity": 1}},
          {"data": {"values": [{"t": 4.94, "v": 0.958, "lab": "“turn-around” time"}]}, "mark": {"type": "text", "font": "Lato", "fontSize": 13, "align": "left", "color": "#444"}, "encoding": {"text": {"field": "lab"}}},
          {"data": {"values": [{"t": 0.37, "v": 0.94, "lab": "(a)"}]}, "mark": {"type": "text", "font": "Liberation Serif", "fontStyle": "italic", "fontSize": 25, "color": "#111"}, "encoding": {"text": {"field": "lab"}}}
        ]
      }
    ]
  },
  {
    "data": {"name": "R"},
    "transform": [{"lookup": "p", "from": {"data": {"name": "pm"}, "key": "p", "fields": ["r", "c"]}}],
    "spacing": {"row": 6, "column": 7},
    "facet": {
      "row": {"field": "r", "type": "ordinal", "header": {"title": "Relative energy of the last ion", "labels": false, "titlePadding": 6}},
      "column": {"field": "c", "type": "ordinal", "header": {"title": "Time  (1000 × ωₐ⁻¹)", "titleOrient": "bottom", "labelOrient": "bottom", "labels": false, "titlePadding": -7, "titleFontSize": 16}}
    },
    "spec": {
      "width": 256,
      "height": 203,
      "encoding": {
        "x": {"field": "t", "type": "quantitative", "title": null, "scale": {"domain": [0, 4], "nice": false}, "axis": {"values": [0, 4], "labelFlush": true, "labelPadding": 5}},
        "y": {"field": "l", "type": "quantitative", "title": null, "scale": {"domain": [-0.02, 1.04], "nice": false}, "axis": {"values": [0, 1], "format": ".1f", "labelPadding": 6}}
      },
      "layer": [
        {"transform": [{"filter": "!datum.k && (datum.p=='b' || datum.p=='c')"}, {"fold": ["l", "h"], "as": ["key", "y"]}],
         "mark": {"type": "line", "color": "#0a0aff", "strokeWidth": 1.3, "opacity": 0.85, "clip": true},
         "encoding": {"y": {"field": "y", "type": "quantitative", "title": null, "scale": {"domain": [-0.02, 1.04], "nice": false}}, "order": [{"field": "t", "type": "quantitative"}, {"field": "key", "sort": "descending"}]}},
        {"transform": [{"filter": "datum.k=='s'"}], "mark": {"type": "rule", "color": "#0a0aff", "strokeWidth": 1, "opacity": 0.5, "clip": true}, "encoding": {"y2": {"field": "h"}}},
        {"transform": [{"filter": "!datum.k && (datum.p=='d' || datum.p=='e')"}], "mark": {"type": "rule", "color": "#0a0aff", "strokeWidth": 1.2, "opacity": 0.33, "clip": true}, "encoding": {"y2": {"field": "h"}}},
        {"transform": [{"filter": "!datum.k && (datum.p=='d' || datum.p=='e')"}], "mark": {"type": "line", "color": "#0a0aff", "strokeWidth": 1, "opacity": 0.35, "clip": true}},
        {"transform": [{"filter": "datum.k=='id'"}], "mark": {"type": "text", "font": "Liberation Serif", "fontStyle": "italic", "fontSize": 25, "color": "#111"},
         "encoding": {"y": {"field": "v", "type": "quantitative", "title": null, "scale": {"domain": [-0.02, 1.04], "nice": false}}, "text": {"field": "s"}}},
        {"transform": [{"filter": "datum.k=='pw'"}], "mark": {"type": "text", "font": "Lato", "fontSize": 15, "color": "#111"},
         "encoding": {"y": {"field": "v", "type": "quantitative", "title": null, "scale": {"domain": [-0.02, 1.04], "nice": false}}, "text": {"field": "s"}}}
      ]
    }
  }
]
}
